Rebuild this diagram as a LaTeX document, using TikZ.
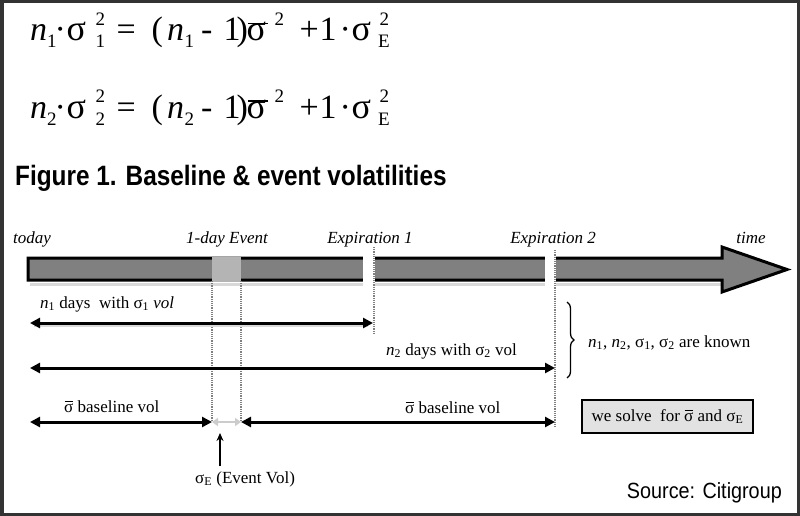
\documentclass[tikz,border=0pt]{standalone}
\usepackage{fontspec}
\setmainfont{Liberation Serif}
\newfontfamily\titlefont[FakeStretch=0.87]{Liberation Sans}
\newfontfamily\srcfont[FakeStretch=0.9]{Liberation Sans}
\usetikzlibrary{arrows.meta,decorations.pathreplacing,calc}
\definecolor{framec}{HTML}{333333}
\definecolor{shaftc}{HTML}{808080}
\definecolor{eventc}{HTML}{B4B4B4}
\definecolor{boxc}{HTML}{E2E2E2}
% piece of an equation at an absolute x offset (pt), optional raise
\newcommand{\pc}[3][0pt]{\rlap{\hspace{#2pt}\raisebox{#1}{#3}}}
\newcommand{\scr}{\fontsize{19}{20}\selectfont}
\newcommand{\sg}{{\fontsize{36}{36}\selectfont σ}}
\newcommand{\sbar}{\leavevmode\rlap{\hspace{0.04em}\raisebox{0.62em}{\rule{0.46em}{0.05em}}}σ}
\newcommand{\vn}[1]{\textit{n}\textsubscript{#1}}
\newcommand{\vs}[1]{σ\textsubscript{#1}}
\newcommand{\eqline}[1]{%
  \pc{29.5}{\textit{n}}\pc[-7pt]{46.5}{\scr #1}\pc{54}{·}\pc{66}{\sg}%
  \pc[15pt]{95}{\scr 2}\pc[-7pt]{95}{\scr #1}\pc{116}{=}%
  \pc{151}{(}\pc{166.5}{\textit{n}}\pc[-7pt]{184}{\scr #1}\pc{200.5}{-}\pc{223}{1}\pc{236}{)}%
  \pc{246}{\sg}\pc[16.5pt]{247.5}{\rule{20pt}{1.6pt}}\pc[15pt]{274}{\scr 2}%
  \pc{299}{+}\pc{319}{1}\pc{339}{·}\pc{351}{\sg}\pc[15pt]{379}{\scr 2}\pc[-7pt]{377.5}{\scr E}}
\tikzset{
  lbl/.style={inner sep=0pt,font=\fontsize{17}{20}\selectfont},
  toplbl/.style={inner sep=0pt,anchor=base,font=\fontsize{17}{20}\selectfont\itshape},
  eqn/.style={inner sep=0pt,anchor=base west,font=\fontsize{34}{36}\selectfont},
  span/.style={line width=3pt,{Triangle[length=10pt,width=10pt]}-{Triangle[length=10pt,width=10pt]}},
  guide/.style={gray,line width=1.2pt,densely dotted},
}
\begin{document}
\begin{tikzpicture}[x=1pt,y=-1pt]
\useasboundingbox (0,0) rectangle (800,516);
\draw[line width=3.5pt,framec] (1.75,1.75) rectangle (798.25,514.25);

% equations
\node[eqn] (eq1) at (0,41) {\eqline{1}};
\node[eqn] (eq2) at (0,118) {\eqline{2}};

% title
\node[inner sep=0pt,anchor=base west,font=\titlefont\bfseries\fontsize{28}{30}\selectfont] (title) at (15,185)
  {Figure 1. Baseline \& event volatilities};

% time arrow
\draw[line width=3pt,gray!30] (30,284) -- (722,284);
\draw[line width=3pt,fill=shaftc,line join=miter]
  (28,258) -- (722,258) -- (722,247) -- (787,269.5) -- (722,292) -- (722,280) -- (28,280) -- cycle;
\fill[white] (363,254) rectangle (375,287);
\fill[white] (545,254) rectangle (556,287);
\fill[eventc] (212,256.5) rectangle (241,281.5);

% top labels
\node[toplbl] (today) at (32,243) {today};
\node[toplbl] (event) at (227,243) {1-day Event};
\node[toplbl] (exp1) at (370,243) {Expiration 1};
\node[toplbl] (exp2) at (553,243) {Expiration 2};
\node[toplbl] (time) at (751,243) {time};

% guides
\coordinate (g1t) at (212,281); \coordinate (g1b) at (212,421);
\coordinate (g2t) at (241,281); \coordinate (g2b) at (241,421);
\coordinate (e1t) at (374,247); \coordinate (e1b) at (374,334);
\coordinate (e2t) at (555,250); \coordinate (e2b) at (555,428);
\draw[guide] (g1t) -- (g1b);
\draw[guide] (g2t) -- (g2b);
\draw[guide] (e1t) -- (e1b);
\draw[guide] (e2t) -- (e2b);

% row 1
\coordinate (r1a) at (30,323); \coordinate (r1b) at (373,323);
\draw[line width=2pt,gray!30] (34,326) -- (368,326);
\draw[span] (r1a) -- (r1b);
\node[lbl,anchor=base west] (l1) at (40,308) {\vn{1} days \ with \vs{1} \textit{vol}};

% row 2
\coordinate (r2a) at (30,368); \coordinate (r2b) at (555,368);
\draw[span] (r2a) -- (r2b);
\node[lbl,anchor=base west] (l2) at (386,355) {\vn{2} days with \vs{2} vol};

% brace
\coordinate (bt) at (567,302); \coordinate (bb) at (567,378);
\draw[line width=1.3pt,decorate,decoration={brace,amplitude=7pt}] (bt) -- (bb);
\node[lbl,anchor=base west] (known) at (588,347) {\vn{1}, \vn{2}, \vs{1}, \vs{2} are known};

% row 3
\coordinate (r3a) at (30,422); \coordinate (r3b) at (212,422);
\coordinate (r3c) at (241,422); \coordinate (r3d) at (555,422);
\draw[span] (r3a) -- (r3b);
\draw[span] (r3c) -- (r3d);
\draw[line width=2.5pt,gray!40,{Triangle[length=6pt,width=8pt]}-{Triangle[length=6pt,width=8pt]}] (r3b) -- (r3c);
\node[lbl,anchor=base west] (b1) at (64,412) {\sbar\ baseline vol};
\node[lbl,anchor=base west] (b2) at (405,413) {\sbar\ baseline vol};

% event vol pointer
\coordinate (pt) at (220,433); \coordinate (pb) at (220,466);
\draw[line width=1.5pt,-{Stealth[length=8pt,width=7pt]}] (pb) -- (pt);
\node[lbl,anchor=base west] (ev) at (195,483) {σ\textsubscript{E} (Event Vol)};

% solve box
\node[draw,line width=2.5pt,fill=boxc,minimum width=171pt,minimum height=33pt,inner sep=0pt,
  font=\fontsize{17}{19}\selectfont] (solve) at (667.5,416.5) {we solve \ for \sbar\ and σ\textsubscript{E}};

% source
\node[inner sep=0pt,anchor=base east,font=\srcfont\fontsize{22}{24}\selectfont] (src) at (782,498) {Source: Citigroup};
\end{tikzpicture}
\end{document}
